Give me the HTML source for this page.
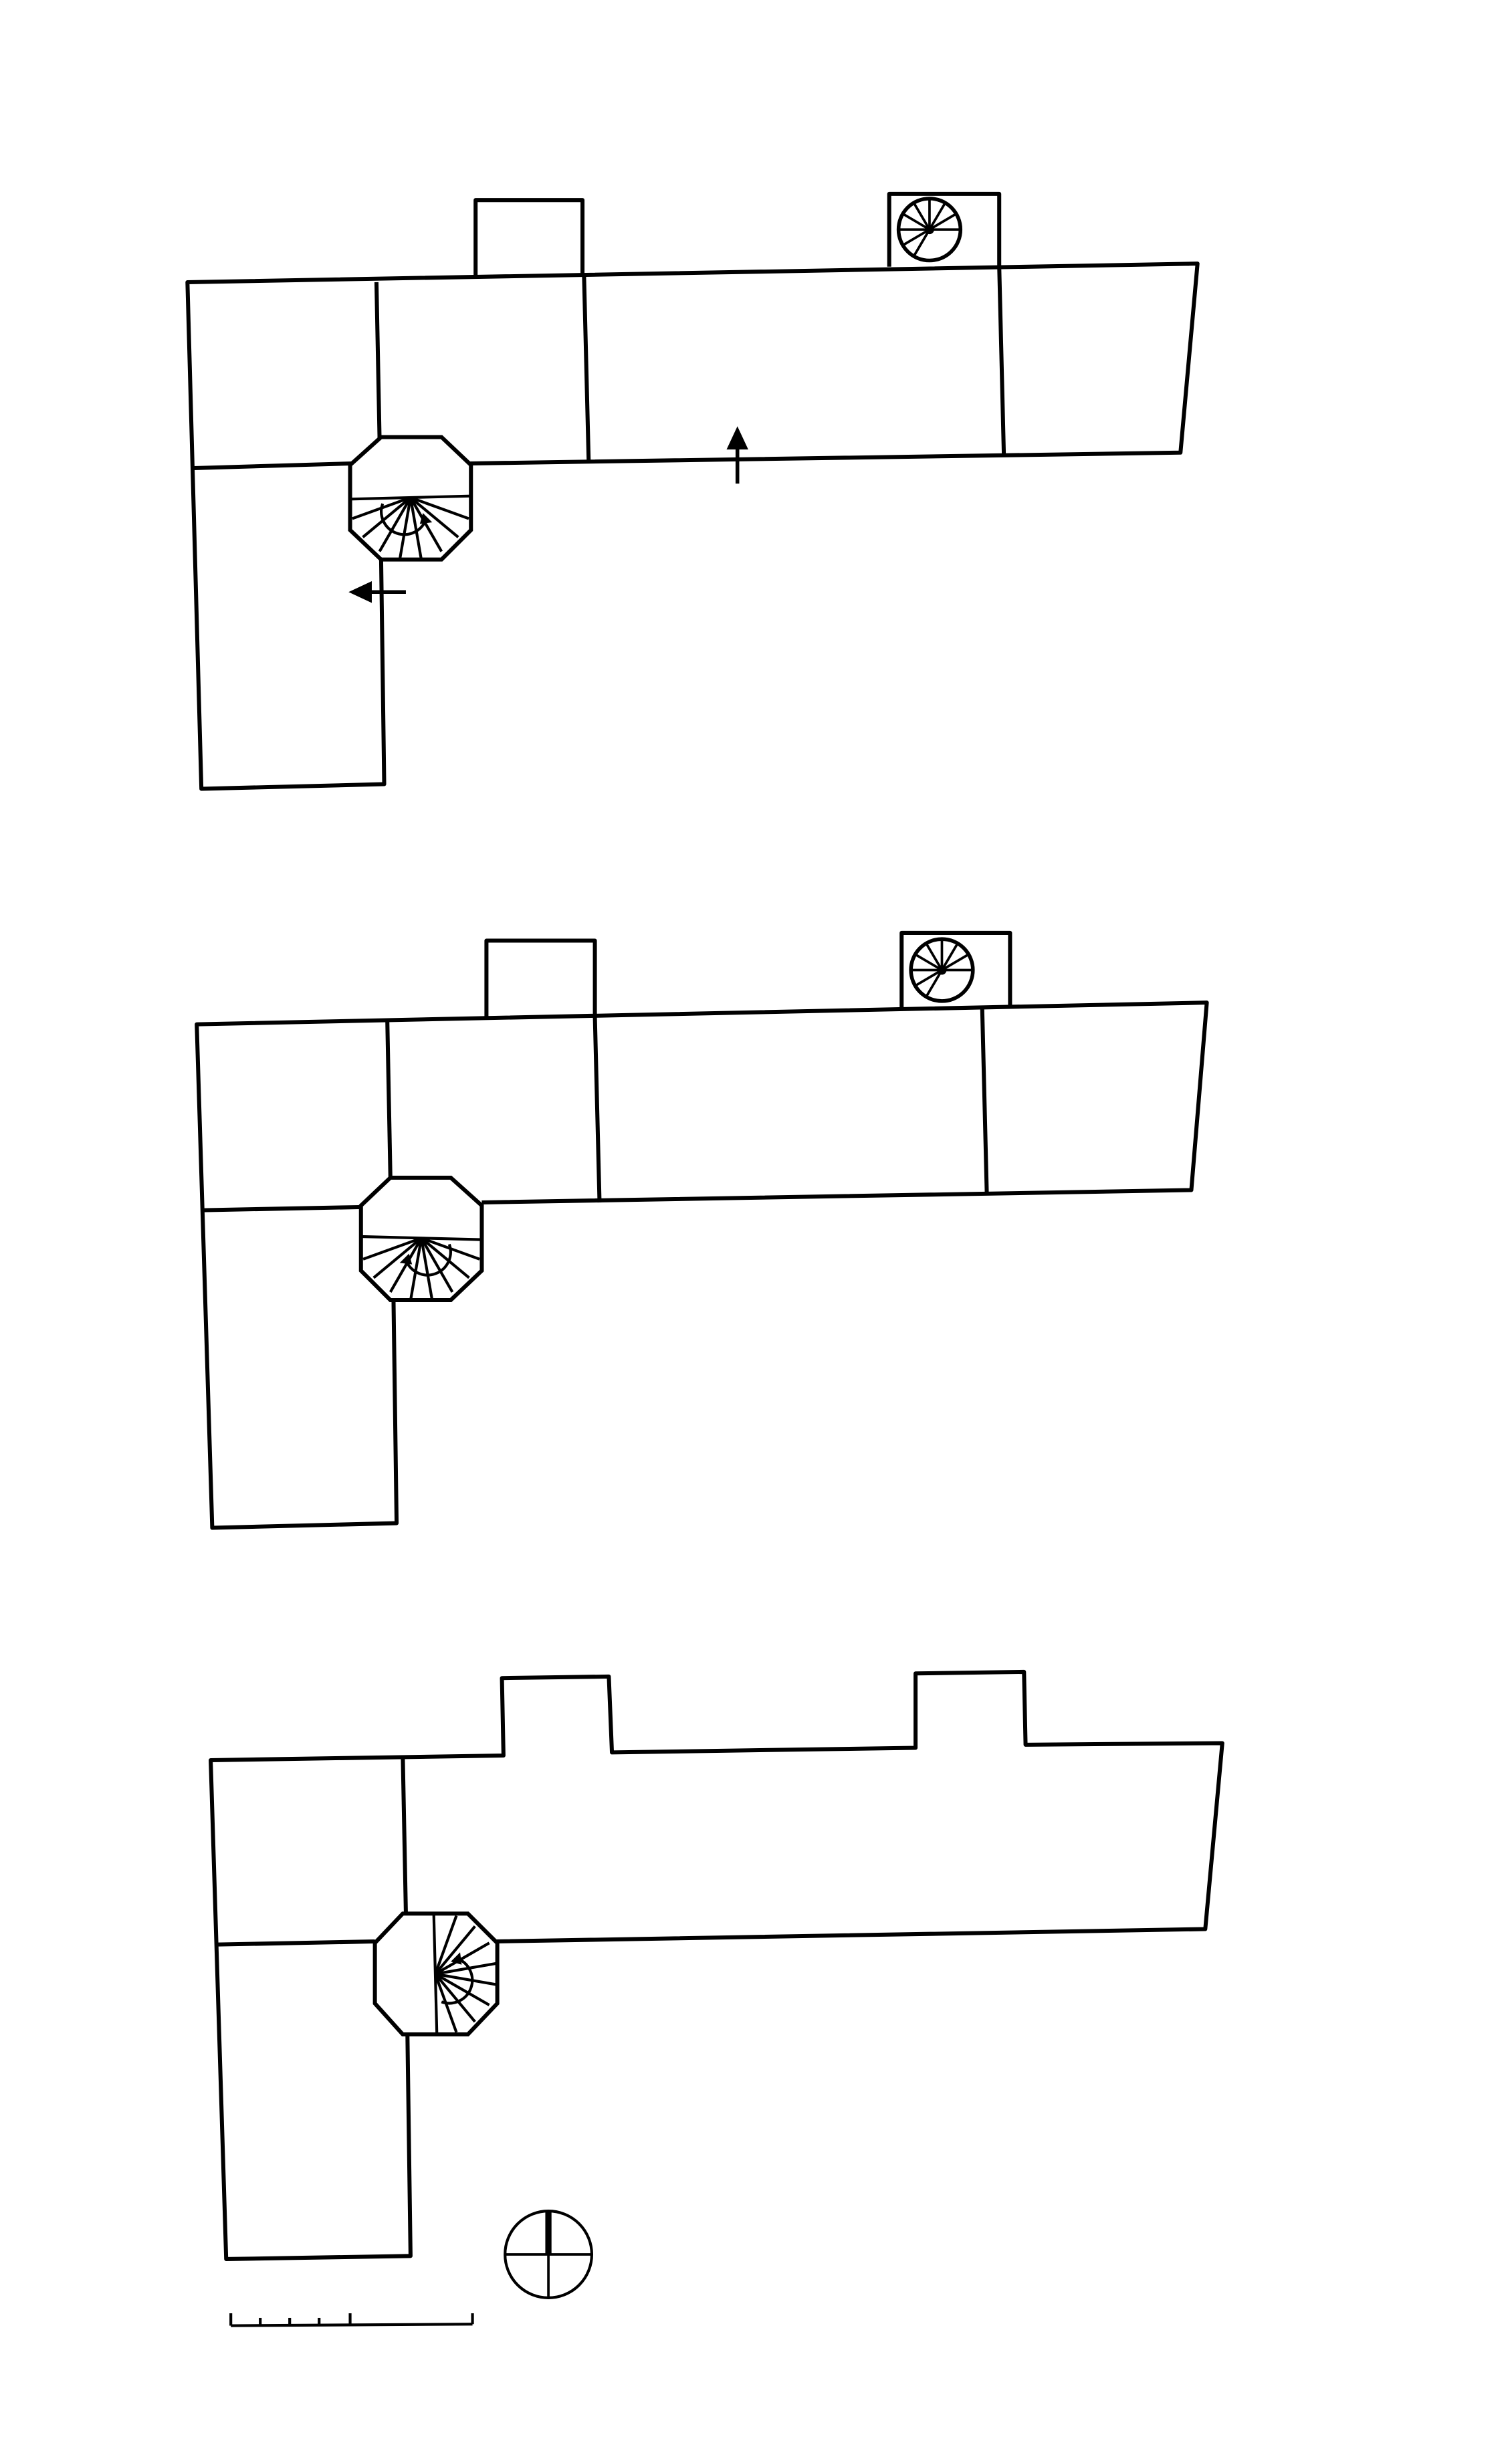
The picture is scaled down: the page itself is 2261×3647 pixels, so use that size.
<!DOCTYPE html>
<html><head><meta charset="utf-8"><style>html,body{margin:0;padding:0;background:#fff}svg{display:block}</style></head>
<body>
<svg width="2261" height="3647" viewBox="0 0 976 1574" xmlns="http://www.w3.org/2000/svg">
<defs>
<g id="oct">
<polygon points="-19,-39 20,-39 39,-21 39,21 20,40 -19,40 -39,21 -39,-21" fill="#fff" stroke="#000" stroke-width="2.6"/>
<g stroke="#000" stroke-width="1.8">
<line x1="-39" y1="1" x2="39" y2="-1"/>
<line x1="0" y1="0" x2="37.6" y2="13.6"/><line x1="0" y1="0" x2="30.8" y2="25.6"/>
<line x1="0" y1="0" x2="20" y2="34.8"/><line x1="0" y1="0" x2="6.8" y2="39.2"/>
<line x1="0" y1="0" x2="-6.8" y2="39.2"/><line x1="0" y1="0" x2="-20" y2="34.8"/>
<line x1="0" y1="0" x2="-30.8" y2="25.6"/><line x1="0" y1="0" x2="-37.6" y2="13.6"/>
</g>
<path d="M-18,4 A14,14 0 0 0 10,14" fill="none" stroke="#000" stroke-width="1.8"/>
<polygon points="8,10 14,16 6,17" fill="#000"/>
</g>
<g id="sp">
<circle r="20" fill="none" stroke="#000" stroke-width="2.4"/>
<g stroke="#000" stroke-width="1.6">
<line x2="-20" y2="0"/><line x2="-17" y2="-10"/><line x2="-10" y2="-17"/><line x2="0" y2="-20"/>
<line x2="10" y2="-17"/><line x2="17" y2="-10"/><line x2="20" y2="0"/><line x2="-17" y2="10"/><line x2="-10" y2="17"/>
</g>
<circle r="3" fill="#000"/>
</g>
</defs>
<g fill="none" stroke="#000" stroke-width="2.6" stroke-linejoin="round">
<!-- Plan 1 -->
<polyline points="303,299 762,292 773,170 121,182 130,509 248,506 246,360"/>
<line x1="243" y1="182" x2="245" y2="283"/>
<line x1="125" y1="302" x2="227" y2="299"/>
<line x1="377" y1="178" x2="380" y2="298"/>
<line x1="645" y1="172" x2="648" y2="294"/>
<polyline points="307,178 307,129 376,129 376,178"/>
<polyline points="574,172 574,125 645,125 645,172"/>
<!-- Plan 2 -->
<polyline points="311,776 769,768 779,647 127,661 137,986 256,983 254,838"/>
<line x1="250" y1="658" x2="252" y2="760"/>
<line x1="131" y1="781" x2="232" y2="779"/>
<line x1="384" y1="656" x2="387" y2="776"/>
<line x1="634" y1="650" x2="637" y2="771"/>
<polyline points="314,657 314,607 384,607 384,656"/>
<polyline points="582,651 582,602 652,602 652,650"/>
<!-- Plan 3 -->
<polyline points="320,1253 778,1245 789,1125 662,1126 661,1079 591,1080 591,1128 395,1131 393,1082 324,1083 325,1133 136,1136 146,1458 265,1456 263,1313"/>
<line x1="260" y1="1133" x2="262" y2="1235"/>
<line x1="140" y1="1255" x2="242" y2="1253"/>
</g>
<use href="#oct" transform="translate(265,321)"/>
<use href="#oct" transform="translate(272,799) scale(-1,1)"/>
<use href="#oct" transform="translate(281,1274) rotate(-90)"/>
<use href="#sp" transform="translate(600,148)"/>
<use href="#sp" transform="translate(608,626)"/>
<!-- arrows -->
<line x1="476" y1="312" x2="476" y2="286" stroke="#000" stroke-width="2.4"/>
<polygon points="469,290 476,275 483,290" fill="#000"/>
<line x1="262" y1="382" x2="236" y2="382" stroke="#000" stroke-width="2.4"/>
<polygon points="240,375 225,382 240,389" fill="#000"/>
<!-- north -->
<circle cx="354" cy="1455" r="28" fill="none" stroke="#000" stroke-width="1.8"/>
<line x1="326" y1="1455" x2="382" y2="1455" stroke="#000" stroke-width="1.6"/>
<line x1="354" y1="1455" x2="354" y2="1483" stroke="#000" stroke-width="1.6"/>
<line x1="354" y1="1427" x2="354" y2="1455" stroke="#000" stroke-width="4"/>
<!-- scale bar -->
<g stroke="#000" stroke-width="1.8">
<line x1="149" y1="1501" x2="305" y2="1500"/>
<line x1="149" y1="1493" x2="149" y2="1501"/>
<line x1="168" y1="1496" x2="168" y2="1501"/>
<line x1="187" y1="1496" x2="187" y2="1501"/>
<line x1="206" y1="1496" x2="206" y2="1501"/>
<line x1="226" y1="1493" x2="226" y2="1501"/>
<line x1="305" y1="1493" x2="305" y2="1500"/>
</g>
</svg>
</body></html>
